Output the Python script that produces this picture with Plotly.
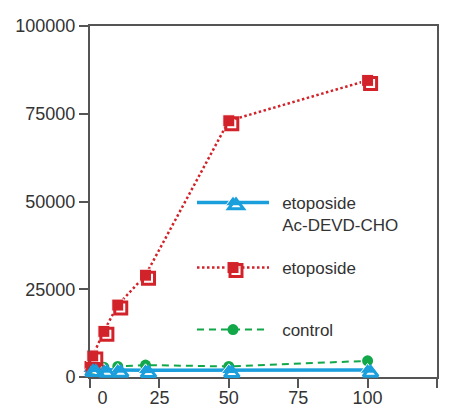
import plotly.graph_objects as go

# ---- data ----
conc = [0, 1, 5, 10, 20, 50, 100]
etoposide = [3000, 6000, 13000, 20500, 29000, 73000, 84500]
etoposide_devd = [2200, 2200, 2000, 2000, 1900, 1900, 2000]
control = [2500, 2500, 2800, 3000, 3400, 3000, 4600]

x_ticks = [0, 25, 50, 75, 100, 125]
x_ticktext = ["\u00a0\u00a0\u00a0\u00a0\u00a00", "25", "50", "75", "100", "125"]
y_ticks = [0, 25000, 50000, 75000, 100000]
y_ticktext = ["0", "25000", "50000", "75000", "100000"]

PAD = "\u00a0\u2009"
names = [PAD + "etoposide<br>" + PAD + "Ac-DEVD-CHO", PAD + "etoposide", PAD + "control"]

BLUE = "#1a9fdc"
RED = "#d2232a"
GREEN = "#12a84a"
AX = "#555555"
FONT = "Liberation Sans, Arial, Helvetica, sans-serif"

W, H = 449, 409
L, R, T, B = 90, 9, 26, 29
PW, PH = W - L - R, H - T - B
DX, DY = 3 / PW, 3 / PH   # shadow offset (3 px right / down)

fig = go.Figure()

# main traces
fig.add_trace(go.Scatter(
    x=conc, y=control, name=names[2], mode="lines+markers",
    line=dict(color=GREEN, width=2, dash="7px,5px"),
    marker=dict(symbol="circle", size=11, color=GREEN),
    cliponaxis=False, legend="legend3", xaxis="x", yaxis="y"))
fig.add_trace(go.Scatter(
    x=conc, y=etoposide, name=names[1], mode="lines+markers",
    line=dict(color=RED, width=2.5, dash="2.5px,2.5px"),
    marker=dict(symbol="square", size=12, color=RED,
                line=dict(color="white", width=1)),
    cliponaxis=False, legend="legend2", xaxis="x", yaxis="y"))
fig.add_trace(go.Scatter(
    x=conc, y=etoposide_devd, name=names[0], mode="lines+markers",
    line=dict(color=BLUE, width=3.5),
    marker=dict(symbol="triangle-up", size=13, color=BLUE,
                line=dict(color="white", width=1)),
    cliponaxis=False, legend="legend", xaxis="x", yaxis="y"))

# shadow (offset open) markers
fig.add_trace(go.Scatter(
    x=conc, y=etoposide, name="\u00a0", mode="markers",
    marker=dict(symbol="square-open", size=12, color=RED,
                line=dict(color=RED, width=3)),
    cliponaxis=False, legend="legend5", xaxis="x2", yaxis="y2"))
fig.add_trace(go.Scatter(
    x=conc, y=etoposide_devd, name="\u00a0", mode="markers",
    marker=dict(symbol="triangle-up-open", size=13, color=BLUE,
                line=dict(color=BLUE, width=3)),
    cliponaxis=False, legend="legend4", xaxis="x2", yaxis="y2"))

axis_common = dict(showgrid=False, zeroline=False, showline=True,
                   linecolor=AX, linewidth=2, mirror=True, automargin=False,
                   ticks="outside", ticklen=9, tickwidth=2, tickcolor=AX,
                   tickfont=dict(family=FONT, size=18, color="#333333"))

def lg(x, y):
    return dict(x=x, y=y, xanchor="left", yanchor="top",
                bgcolor="rgba(0,0,0,0)", borderwidth=0,
                itemwidth=72, valign="top",
                font=dict(family=FONT, size=17, color="#333333"))

def px2x(px):
    return (px - L) / PW

def px2y(py):
    return (H - B - py) / PH

l1 = (px2x(192), px2y(185))
l2 = (px2x(192), px2y(250))
l3 = (px2x(192), px2y(312))

fig.update_layout(
    width=W, height=H,
    margin=dict(l=L, r=R, t=T, b=B, autoexpand=False),
    paper_bgcolor="white", plot_bgcolor="rgba(0,0,0,0)",
    xaxis=dict(range=[0, 125], domain=[0, 1 - DX], anchor="y",
               tickvals=x_ticks, ticktext=x_ticktext, ticklabelstandoff=-6,
               **axis_common),
    yaxis=dict(range=[0, 100000], domain=[DY, 1], anchor="x",
               tickvals=y_ticks, ticktext=y_ticktext, **axis_common),
    xaxis2=dict(range=[0, 125], domain=[DX, 1], anchor="y2", visible=False),
    yaxis2=dict(range=[0, 100000], domain=[0, 1 - DY], anchor="x2", visible=False),
    legend=lg(*l1),
    legend2=lg(*l2),
    legend3=lg(*l3),
    legend4=lg(l1[0] + DX, l1[1] - DY),
    legend5=lg(l2[0] + DX, l2[1] - DY),
    showlegend=True,
)

fig.write_html("out.html", config={"displayModeBar": False},
               post_script="document.body.style.margin='0';document.body.style.padding='0';")
